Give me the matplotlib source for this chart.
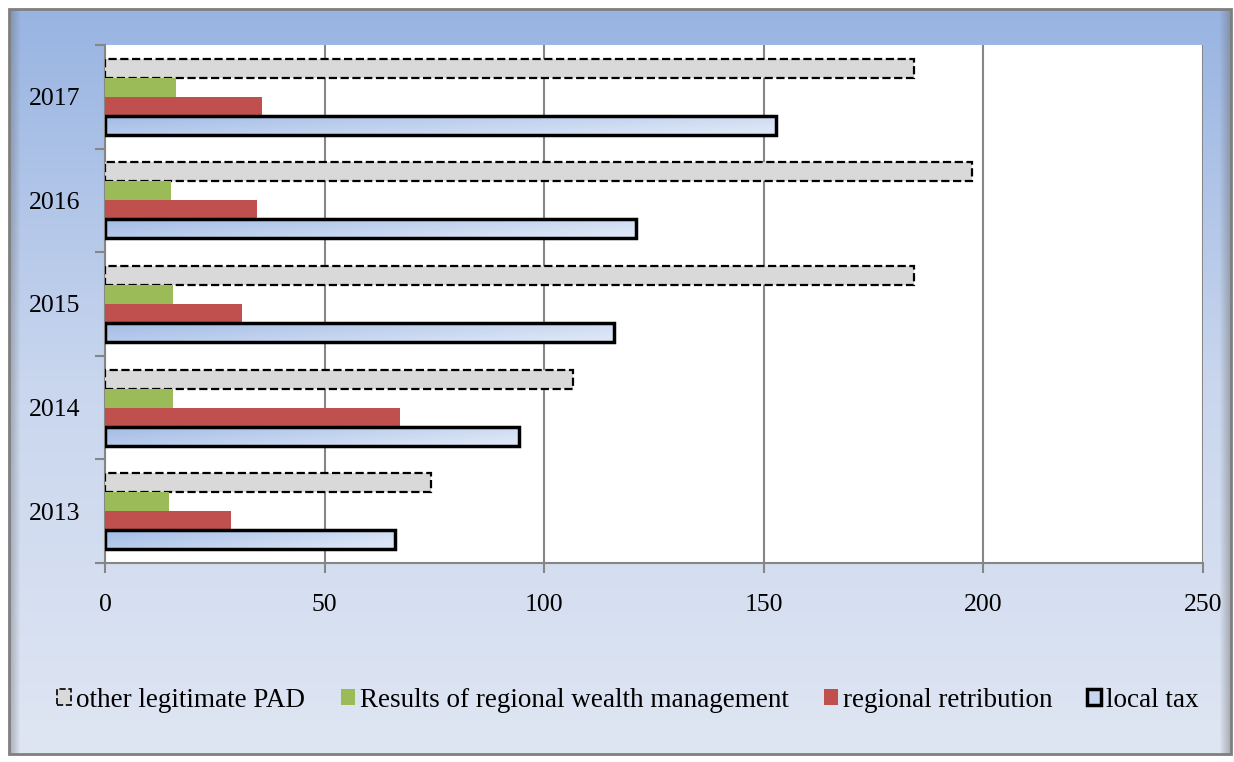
import numpy as np
import matplotlib.pyplot as plt
from matplotlib.colors import LinearSegmentedColormap
from matplotlib.patches import Rectangle, Patch

# data
years = ['2013', '2014', '2015', '2016', '2017']
local_tax = [66.0, 94.3, 115.9, 120.9, 152.8]
regional_retribution = [28.7, 67.2, 31.2, 34.6, 35.7]
wealth_management = [14.6, 15.5, 15.5, 15.0, 16.2]
other_pad = [74.2, 106.6, 184.2, 197.4, 184.2]

plt.rcParams['font.family'] = ['Liberation Serif', 'DejaVu Serif']
FS = 18.5
FS_LEG = 19.5

fig = plt.figure(figsize=(12.34, 7.62), dpi=100)

# background panel with vertical gradient
bg = fig.add_axes([0, 0, 1, 1], zorder=-10)
bg.axis('off')
grad = np.linspace(0, 1, 256).reshape(-1, 1)
bg_cmap = LinearSegmentedColormap.from_list('bg', ['#98b4e2', '#c9d6ee', '#dfe6f3'])
bg.imshow(grad, aspect='auto', cmap=bg_cmap, extent=[9, 1231, 754, 9], origin='upper')
# soft shadow on the left and right edges of the panel
shade = np.linspace(0.45, 0, 12).reshape(1, -1)
bg.imshow(np.dstack([np.full_like(shade, 0.4)] * 3 + [shade]), aspect='auto',
          extent=[9, 21, 754, 9])
bg.imshow(np.dstack([np.full_like(shade, 0.4)] * 3 + [shade[:, ::-1]]), aspect='auto',
          extent=[1219, 1231, 754, 9])
bg.add_patch(Rectangle((9, 9), 1222, 745, fill=False, edgecolor='#7f7f7f', lw=2))
bg.set_xlim(0, 1234)
bg.set_ylim(762, 0)

ax = fig.add_axes([105 / 1234, 1 - 563 / 762, 1098 / 1234, 518 / 762])
ax.set_facecolor('white')

y = np.arange(len(years))
h = 0.183

ax.barh(y + 1.5 * h, other_pad, h, color='#d9d9d9', edgecolor='black',
        linestyle='--', linewidth=1.6, zorder=3)
ax.barh(y + 0.5 * h, wealth_management, h, color='#9bbb59', zorder=3)
ax.barh(y - 0.5 * h, regional_retribution, h, color='#c0504d', zorder=3)
bars = ax.barh(y - 1.5 * h, local_tax, h, facecolor='none', edgecolor='black',
               linewidth=2.5, zorder=4)

# gradient fill for local tax bars
tax_cmap = LinearSegmentedColormap.from_list('tax', ['#a3bce6', '#dce6f6'])
gx = np.linspace(0, 1, 200)
gy = np.linspace(0, 1, 20)
tax_grad = np.clip(0.75 * gx[None, :] + 0.35 * gy[:, None], 0, 1)
for b in bars:
    x0, y0 = b.get_x(), b.get_y()
    w, hh = b.get_width(), b.get_height()
    im = ax.imshow(tax_grad, cmap=tax_cmap, aspect='auto', origin='upper',
                   extent=[x0, x0 + w, y0, y0 + hh], zorder=3.5)
    im.set_clip_path(b)

ax.set_xlim(0, 250)
ax.set_ylim(-0.5, 4.5)

ax.set_xticks([0, 50, 100, 150, 200, 250])
ax.xaxis.grid(True, color='#868686', linewidth=1.5)
ax.set_axisbelow(True)

ax.set_yticks(np.arange(-0.5, 5, 1))
ax.set_yticklabels([])
ax.set_yticks(y, labels=years, minor=True)

ax.tick_params(axis='y', which='major', length=7, width=1.5, color='#868686')
ax.tick_params(axis='y', which='minor', length=0, labelsize=FS, pad=18)
ax.tick_params(axis='x', length=7, width=1.5, color='#868686', labelsize=FS, pad=15)

for s in ['top', 'right']:
    ax.spines[s].set_visible(False)
for s in ['left', 'bottom']:
    ax.spines[s].set_color('#868686')
    ax.spines[s].set_linewidth(1.5)

handles = [
    Patch(facecolor='#d9d9d9', edgecolor='black', linestyle='--', linewidth=1.2),
    Patch(facecolor='#9bbb59'),
    Patch(facecolor='#c0504d'),
    Patch(facecolor='#c6d6f0', edgecolor='black', linewidth=2.5),
]
labels = ['other legitimate PAD', 'Results of regional wealth management',
          'regional retribution', 'local tax']
fig.legend(handles, labels, loc='center', bbox_to_anchor=(0.509, 0.081), ncol=4,
           frameon=False, fontsize=FS_LEG, handlelength=0.52, handleheight=0.52,
           handletextpad=0.18, columnspacing=1.3)

fig.savefig('out.png', dpi=100)
